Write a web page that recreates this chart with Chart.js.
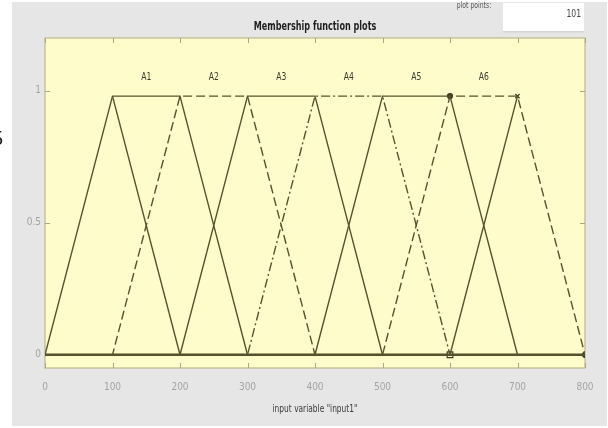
<!DOCTYPE html>
<html>
<head>
<meta charset="utf-8">
<script src="https://cdn.jsdelivr.net/npm/chart.js@4/dist/chart.umd.min.js"></script>
<style>
  html,body{margin:0;padding:0;background:#fff;}
  #wrap{position:relative;width:608px;height:428px;}
</style>
</head>
<body>
<div id="wrap"><canvas id="c" width="608" height="428"></canvas></div>
<script>
// ---------- data ----------
const xTickValues = [0, 100, 200, 300, 400, 500, 600, 700, 800];
const yTickValues = [0, 0.5, 1];
const mfNames   = ['A1', 'A2', 'A3', 'A4', 'A5', 'A6'];
const mfFootL   = [0, 100, 200, 300, 400, 500];
const mfShoulL  = [100, 200, 300, 400, 500, 600];
const mfShoulR  = [200, 300, 400, 500, 600, 700];
const mfFootR   = [300, 400, 500, 600, 700, 800];
const mfPeak    = [0.98, 0.98, 0.98, 0.98, 0.98, 0.98];
const mfLabelX  = [150, 250, 350, 450, 550, 650];
const mfLabelY  = [1.05, 1.05, 1.05, 1.05, 1.05, 1.05];
const extraAX = [100, 200], extraAY = [0.98, 0];
const extraBX = [600, 700], extraBY = [0, 0.98];
const markX = [600, 600, 700, 800];
const markY = [0, 0.98, 0.98, 0];
const xRange = [0, 800];
const yRange = [-0.05, 1.2];

// ---------- styles ----------
const mfDash = [[], [9, 4], [], [9, 3, 2, 3], [], [9, 4]];
const lineColor = '#57532f';

const datasets = [];
mfNames.forEach((n, i) => {
  datasets.push({
    label: n,
    data: [
      {x: xRange[0], y: 0}, {x: mfFootL[i], y: 0}, {x: mfShoulL[i], y: mfPeak[i]},
      {x: mfShoulR[i], y: mfPeak[i]}, {x: mfFootR[i], y: 0}, {x: xRange[1], y: 0}
    ],
    borderColor: lineColor, borderWidth: 1.4, borderDash: mfDash[i],
    showLine: true, pointRadius: 0, fill: false, tension: 0
  });
});
[[extraAX, extraAY], [extraBX, extraBY]].forEach(([xs, ys]) => {
  datasets.push({
    label: 'extra',
    data: xs.map((x, k) => ({x, y: ys[k]})),
    borderColor: lineColor, borderWidth: 1.4, showLine: true, pointRadius: 0, fill: false
  });
});
datasets.push({
  label: 'baseline',
  data: [{x: xRange[0], y: 0}, {x: xRange[1], y: 0}],
  borderColor: '#4a4524', borderWidth: 2.6, showLine: true, pointRadius: 0
});
datasets.push({
  label: 'marks',
  data: markX.map((x, k) => ({x, y: markY[k]})),
  showLine: false,
  pointStyle: ['rect', 'circle', 'crossRot', 'circle'],
  pointRadius: [4, 2.5, 3, 2.5],
  pointBorderColor: '#3c3a20', pointBackgroundColor: ['rgba(0,0,0,0)', '#3c3a20', '#3c3a20', '#3c3a20'],
  pointBorderWidth: 1.2
});

const NARROW = "'Liberation Sans Narrow','DejaVu Sans Condensed','Liberation Sans',sans-serif";

function squeezeText(ctx, text, x, y, sx) {
  ctx.save();
  ctx.translate(x, y);
  ctx.scale(sx, 1);
  ctx.fillText(text, 0, 0);
  ctx.restore();
}

const decor = {
  id: 'decor',
  beforeDraw(chart) {
    const ctx = chart.ctx, a = chart.chartArea;
    ctx.save();
    ctx.fillStyle = '#ffffff';
    ctx.fillRect(0, 0, 608, 428);
    ctx.fillStyle = '#e6e6e6';
    ctx.fillRect(12, 2, 595, 424);
    // input box
    ctx.fillStyle = '#ffffff';
    ctx.fillRect(503, 3, 81, 29);
    ctx.fillStyle = '#d2d2d2';
    ctx.fillRect(503, 31, 81, 1.5);
    // plot area
    ctx.fillStyle = '#fefccb';
    ctx.fillRect(a.left, a.top, a.right - a.left, a.bottom - a.top);
    ctx.restore();
  },
  beforeDatasetsDraw(chart) {
    const ctx = chart.ctx, a = chart.chartArea;
    const xs = chart.scales.x, ys = chart.scales.y;
    ctx.save();
    ctx.strokeStyle = '#bfb88e';
    ctx.lineWidth = 1.2;
    ctx.strokeRect(a.left, a.top, a.right - a.left, a.bottom - a.top);
    ctx.strokeStyle = '#aaa489';
    ctx.lineWidth = 1;
    ctx.beginPath();
    xTickValues.forEach(v => {
      const px = Math.round(xs.getPixelForValue(v)) + 0.5;
      ctx.moveTo(px, a.top); ctx.lineTo(px, a.top + 5);
      ctx.moveTo(px, a.bottom); ctx.lineTo(px, a.bottom - 5);
    });
    yTickValues.forEach(v => {
      const py = Math.round(ys.getPixelForValue(v)) + 0.5;
      ctx.moveTo(a.left, py); ctx.lineTo(a.left + 5, py);
      ctx.moveTo(a.right, py); ctx.lineTo(a.right - 5, py);
    });
    ctx.stroke();
    ctx.restore();
  },
  afterDraw(chart) {
    const ctx = chart.ctx;
    const xs = chart.scales.x, ys = chart.scales.y;
    ctx.save();
    ctx.textAlign = 'center';
    ctx.textBaseline = 'middle';
    // title
    ctx.fillStyle = '#1f1f1f';
    ctx.font = 'bold 12px ' + NARROW;
    squeezeText(ctx, 'Membership function plots', 315, 27, 0.75);
    // x axis title
    ctx.fillStyle = '#3a3a3a';
    ctx.font = '10px ' + NARROW;
    squeezeText(ctx, 'input variable "input1"', 315, 409, 0.83);
    // MF labels
    ctx.fillStyle = '#3a3a2a';
    ctx.font = '10px ' + NARROW;
    mfNames.forEach((n, i) => {
      squeezeText(ctx, n, xs.getPixelForValue(mfLabelX[i]), ys.getPixelForValue(mfLabelY[i]), 0.85);
    });
    // plot points
    ctx.fillStyle = '#555';
    ctx.font = '8px ' + NARROW;
    squeezeText(ctx, 'plot points:', 474, 6, 0.85);
    ctx.textAlign = 'right';
    ctx.fillStyle = '#444';
    ctx.font = '10px ' + NARROW;
    squeezeText(ctx, '101', 581, 14, 0.85);
    // clipped document digit at far left
    ctx.textAlign = 'left';
    ctx.fillStyle = '#111';
    ctx.font = '20px "Liberation Serif",serif';
    ctx.fillText('5', -7, 140);
    ctx.restore();
  }
};

new Chart(document.getElementById('c'), {
  type: 'scatter',
  data: { datasets },
  options: {
    responsive: false,
    animation: false,
    events: [],
    layout: { padding: { left: 0, right: 23, top: 38, bottom: 0 } },
    plugins: { legend: { display: false }, title: { display: false }, tooltip: { enabled: false } },
    scales: {
      x: {
        type: 'linear', min: xRange[0], max: xRange[1],
        afterBuildTicks: s => { s.ticks = xTickValues.map(v => ({value: v})); },
        afterFit: s => { s.height = 60; },
        grid: { display: false, drawTicks: false },
        border: { display: false },
        ticks: { padding: 13, color: '#a3a3a3', font: { size: 10, family: NARROW }, maxRotation: 0, autoSkip: false,
                 callback: v => String(v) }
      },
      y: {
        type: 'linear', min: yRange[0], max: yRange[1],
        afterBuildTicks: s => { s.ticks = yTickValues.map(v => ({value: v})); },
        afterFit: s => { s.width = 45; },
        grid: { display: false, drawTicks: false },
        border: { display: false },
        ticks: { padding: 4, color: '#a3a3a3', font: { size: 10, family: NARROW }, callback: v => String(v) }
      }
    }
  },
  plugins: [decor]
});
</script>
</body>
</html>
